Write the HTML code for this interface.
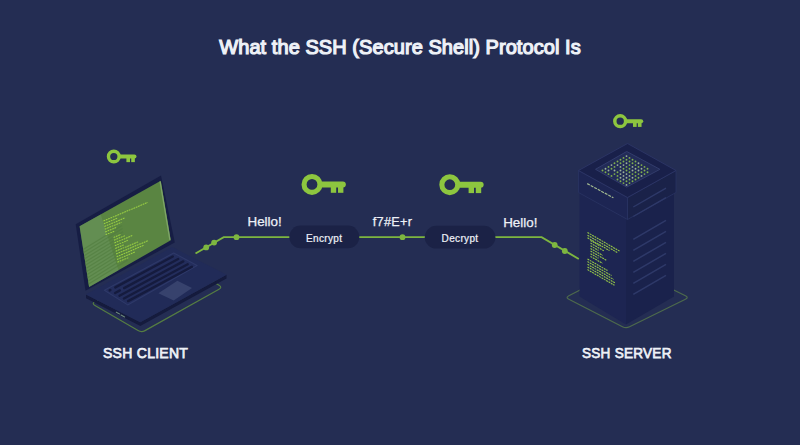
<!DOCTYPE html>
<html><head><meta charset="utf-8">
<style>
html,body{margin:0;padding:0;}
body{width:800px;height:445px;overflow:hidden;background:#242d53;position:relative;font-family:"Liberation Sans",sans-serif;}
.t{position:absolute;color:#eef1f7;white-space:nowrap;line-height:1;}
#title{left:0;width:800px;text-align:center;top:37.3px;font-size:20px;font-weight:normal;letter-spacing:0.06px;-webkit-text-stroke:1.2px #eef1f7;}
.h{font-size:13.4px;-webkit-text-stroke:0.25px #eef1f7;}
.p{font-size:10px;letter-spacing:0.35px;-webkit-text-stroke:0.22px #eef1f7;}
.l{transform-origin:0 0;font-size:15.3px;font-weight:normal;letter-spacing:0.3px;-webkit-text-stroke:0.75px #eef1f7;}
svg{position:absolute;left:0;top:0;}
</style></head>
<body>
<svg width="800" height="445" viewBox="0 0 800 445">
  <defs>
    <g id="key">
      <circle cx="0" cy="0" r="7.95" fill="none" stroke="#8dc63f" stroke-width="5.1"/>
      <path d="M9 -3 H30.8 A3.05 3.05 0 0 1 30.8 3.1 H9 Z" fill="#8dc63f"/>
      <rect x="18.8" y="2" width="5.4" height="6.4" fill="#8dc63f"/>
      <rect x="26" y="2" width="5.4" height="6.4" fill="#8dc63f"/>
    </g>
  </defs>
  <path d="M94.99,301.54 Q91.50,303.50 94.96,305.51 L138.04,330.59 Q141.50,332.60 144.99,330.64 L219.01,289.16 Q222.50,287.20 219.04,285.19 L175.96,260.11 Q172.50,258.10 169.01,260.06 Z" fill="none" stroke="#557d42" stroke-width="1.2"/>
  <polygon points="86.0,294.5 140.3,322.3 226.5,274.8 226.5,278.6 140.3,326.1 86.0,298.3" fill="#151b3d"/>
  <polygon points="86.0,294.5 140.3,322.3 226.5,274.8 172.2,247.0" fill="#212b58"/>
  <line x1="116.3" y1="312.2" x2="119.6" y2="314.0" stroke="#6d8a7c" stroke-width="1.1" stroke-linecap="round"/>
  <line x1="121.0" y1="315.0" x2="124.6" y2="317.0" stroke="#6d8a7c" stroke-width="1.1" stroke-linecap="round"/>
  <polygon points="104.4,290.3 173.7,253.0 197.1,265.4 127.7,304.9" fill="#232d5c" stroke="#2e3969" stroke-width="1.1" stroke-linejoin="round"/>
  <line x1="115.3" y1="287.4" x2="172.8" y2="256.5" stroke="#151b3e" stroke-width="2.4" stroke-linecap="round"/>
  <line x1="124.1" y1="288.1" x2="178.2" y2="259.0" stroke="#151b3e" stroke-width="2.4" stroke-linecap="round"/>
  <line x1="119.5" y1="295.7" x2="183.3" y2="261.4" stroke="#151b3e" stroke-width="2.4" stroke-linecap="round"/>
  <line x1="123.9" y1="298.5" x2="187.7" y2="264.2" stroke="#151b3e" stroke-width="2.4" stroke-linecap="round"/>
  <line x1="128.1" y1="301.1" x2="191.9" y2="266.8" stroke="#151b3e" stroke-width="2.4" stroke-linecap="round"/>
  <line x1="109.7" y1="290.4" x2="110.4" y2="290.0" stroke="#151b3e" stroke-width="2.4" stroke-linecap="round"/>
  <line x1="115.1" y1="293.0" x2="119.9" y2="290.4" stroke="#151b3e" stroke-width="2.4" stroke-linecap="round"/>
  <polygon points="158.4,293.2 177.4,280.8 192.0,288.0 173.7,300.5" fill="#37426d"/>
  <polygon points="75.7,224.3 161.0,175.5 174.8,242.5 85.5,290.8" fill="#161d44"/>
  <polygon points="79.6,226.3 160.8,180.7 170.8,240.3 89.1,287.0" fill="#5a8542"/>
  <line x1="160.1" y1="181.5" x2="169.9" y2="239.8" stroke="#7ea568" stroke-width="1.3" />
  <polygon points="79.6,226.3 100.7,214.4 118.5,270.2 89.1,287.0" fill="#6b9560" opacity="0.55"/>
  <line x1="83.2" y1="249.4" x2="122.0" y2="225.5" stroke="#507c3e" stroke-width="1.2" opacity="0.6"/>
  <line x1="83.7" y1="252.5" x2="122.5" y2="228.6" stroke="#507c3e" stroke-width="1.2" opacity="0.6"/>
  <line x1="84.2" y1="255.7" x2="123.0" y2="231.7" stroke="#507c3e" stroke-width="1.2" opacity="0.6"/>
  <line x1="84.7" y1="258.8" x2="123.5" y2="234.9" stroke="#507c3e" stroke-width="1.2" opacity="0.6"/>
  <line x1="85.2" y1="262.0" x2="124.0" y2="238.0" stroke="#507c3e" stroke-width="1.2" opacity="0.6"/>
  <line x1="85.7" y1="265.1" x2="124.5" y2="241.1" stroke="#507c3e" stroke-width="1.2" opacity="0.6"/>
  <line x1="86.2" y1="268.3" x2="125.0" y2="244.2" stroke="#507c3e" stroke-width="1.2" opacity="0.6"/>
  <line x1="86.7" y1="271.5" x2="125.5" y2="247.4" stroke="#507c3e" stroke-width="1.2" opacity="0.6"/>
  <line x1="87.2" y1="274.6" x2="126.0" y2="250.5" stroke="#507c3e" stroke-width="1.2" opacity="0.6"/>
  <line x1="87.7" y1="277.8" x2="126.5" y2="253.6" stroke="#507c3e" stroke-width="1.2" opacity="0.6"/>
  <line x1="88.1" y1="280.9" x2="127.0" y2="256.8" stroke="#507c3e" stroke-width="1.2" opacity="0.6"/>
  <line x1="88.6" y1="284.1" x2="127.6" y2="259.9" stroke="#507c3e" stroke-width="1.2" opacity="0.6"/>
  <line x1="103.5" y1="221.0" x2="147.7" y2="202.4" stroke="#a2d843" stroke-width="1.05" stroke-dasharray="1.8 0.7" opacity="0.9"/>
  <line x1="103.9" y1="223.8" x2="117.8" y2="217.9" stroke="#a2d843" stroke-width="1.05" stroke-dasharray="1.8 0.7" opacity="0.9"/>
  <line x1="104.4" y1="226.5" x2="124.6" y2="218.0" stroke="#a2d843" stroke-width="1.05" stroke-dasharray="1.8 0.7" opacity="0.9"/>
  <line x1="104.8" y1="229.2" x2="121.4" y2="222.3" stroke="#a2d843" stroke-width="1.05" stroke-dasharray="1.8 0.7" opacity="0.9"/>
  <line x1="105.2" y1="232.0" x2="116.3" y2="227.4" stroke="#a2d843" stroke-width="1.05" stroke-dasharray="1.8 0.7" opacity="0.9"/>
  <line x1="105.6" y1="234.8" x2="114.9" y2="230.9" stroke="#a2d843" stroke-width="1.05" stroke-dasharray="1.8 0.7" opacity="0.9"/>
  <line x1="113.6" y1="237.5" x2="120.9" y2="234.4" stroke="#a2d843" stroke-width="1.05" stroke-dasharray="1.8 0.7" opacity="0.9"/>
  <line x1="114.0" y1="240.2" x2="125.1" y2="235.6" stroke="#a2d843" stroke-width="1.05" stroke-dasharray="1.8 0.7" opacity="0.9"/>
  <line x1="114.4" y1="243.0" x2="132.9" y2="235.3" stroke="#a2d843" stroke-width="1.05" stroke-dasharray="1.8 0.7" opacity="0.9"/>
  <line x1="114.9" y1="245.8" x2="127.8" y2="240.3" stroke="#a2d843" stroke-width="1.05" stroke-dasharray="1.8 0.7" opacity="0.9"/>
  <line x1="115.3" y1="248.5" x2="124.5" y2="244.6" stroke="#a2d843" stroke-width="1.05" stroke-dasharray="1.8 0.7" opacity="0.9"/>
  <line x1="115.7" y1="251.2" x2="138.8" y2="241.6" stroke="#a2d843" stroke-width="1.05" stroke-dasharray="1.8 0.7" opacity="0.9"/>
  <line x1="116.1" y1="254.0" x2="148.4" y2="240.5" stroke="#a2d843" stroke-width="1.05" stroke-dasharray="1.8 0.7" opacity="0.9"/>
  <line x1="116.6" y1="256.8" x2="144.2" y2="245.1" stroke="#a2d843" stroke-width="1.05" stroke-dasharray="1.8 0.7" opacity="0.9"/>
  <line x1="117.0" y1="259.5" x2="135.4" y2="251.8" stroke="#a2d843" stroke-width="1.05" stroke-dasharray="1.8 0.7" opacity="0.9"/>
  <line x1="117.4" y1="262.2" x2="128.5" y2="257.6" stroke="#a2d843" stroke-width="1.05" stroke-dasharray="1.8 0.7" opacity="0.9"/>
  <path d="M568.86,295.68 Q565.30,297.50 568.86,299.32 L622.44,326.68 Q626.00,328.50 629.59,326.73 L685.41,299.27 Q689.00,297.50 685.41,295.73 L629.59,268.27 Q626.00,266.50 622.44,268.32 Z" fill="none" stroke="#4d6a4c" stroke-width="1.2"/>
  <polygon points="579.5,192.0 626.0,219.0 626.0,324.5 579.5,296.5" fill="#1d2552"/>
  <polygon points="626.0,219.0 674.0,192.0 674.0,296.5 626.0,324.5" fill="#1a224c"/>
  <polygon points="578.5,170.5 627.5,197.5 627.5,219.5 578.5,192.5" fill="#1d2553" stroke="#2a3463" stroke-width="0.8"/>
  <polygon points="627.5,197.5 676.0,170.5 676.0,192.5 627.5,219.5" fill="#1a2249" stroke="#2a3463" stroke-width="0.8"/>
  <polygon points="627.5,143.5 676.0,170.5 627.5,197.5 578.5,170.5" fill="#19204a" stroke="#2c3666" stroke-width="0.9"/>
  <polygon points="626.7,151.5 659.9,169.3 626.7,187.1 595.5,169.3" fill="#222b57" stroke="#323c6c" stroke-width="1"/>
  <circle cx="602.5" cy="170.5" r="0.95" fill="#7fb04c"/>
  <circle cx="605.5" cy="172.3" r="0.95" fill="#7fb04c"/>
  <circle cx="608.5" cy="174.1" r="0.95" fill="#7fb04c"/>
  <circle cx="611.5" cy="175.9" r="0.95" fill="#7fb04c"/>
  <circle cx="617.5" cy="179.5" r="0.95" fill="#7fb04c"/>
  <circle cx="620.5" cy="181.3" r="0.95" fill="#7fb04c"/>
  <circle cx="623.5" cy="183.1" r="0.95" fill="#7fb04c"/>
  <circle cx="626.5" cy="184.9" r="0.95" fill="#9cb19a"/>
  <circle cx="605.5" cy="168.7" r="0.95" fill="#9cb19a"/>
  <circle cx="608.5" cy="170.5" r="0.95" fill="#9cb19a"/>
  <circle cx="614.5" cy="174.1" r="0.95" fill="#7fb04c"/>
  <circle cx="617.5" cy="175.9" r="0.95" fill="#7fb04c"/>
  <circle cx="620.5" cy="177.7" r="0.95" fill="#9cb19a"/>
  <circle cx="623.5" cy="179.5" r="0.95" fill="#9cb19a"/>
  <circle cx="626.5" cy="181.3" r="0.95" fill="#7fb04c"/>
  <circle cx="629.5" cy="183.1" r="0.95" fill="#7fb04c"/>
  <circle cx="608.5" cy="166.9" r="0.95" fill="#7fb04c"/>
  <circle cx="611.5" cy="168.7" r="0.95" fill="#7fb04c"/>
  <circle cx="614.5" cy="170.5" r="0.95" fill="#9cb19a"/>
  <circle cx="617.5" cy="172.3" r="0.95" fill="#7fb04c"/>
  <circle cx="620.5" cy="174.1" r="0.95" fill="#9cb19a"/>
  <circle cx="623.5" cy="175.9" r="0.95" fill="#9cb19a"/>
  <circle cx="626.5" cy="177.7" r="0.95" fill="#9cb19a"/>
  <circle cx="629.5" cy="179.5" r="0.95" fill="#7fb04c"/>
  <circle cx="632.5" cy="181.3" r="0.95" fill="#7fb04c"/>
  <circle cx="611.5" cy="165.1" r="0.95" fill="#9cb19a"/>
  <circle cx="614.5" cy="166.9" r="0.95" fill="#7fb04c"/>
  <circle cx="620.5" cy="170.5" r="0.95" fill="#9cb19a"/>
  <circle cx="623.5" cy="172.3" r="0.95" fill="#9cb19a"/>
  <circle cx="626.5" cy="174.1" r="0.95" fill="#9cb19a"/>
  <circle cx="629.5" cy="175.9" r="0.95" fill="#9cb19a"/>
  <circle cx="632.5" cy="177.7" r="0.95" fill="#9cb19a"/>
  <circle cx="635.5" cy="179.5" r="0.95" fill="#7fb04c"/>
  <circle cx="614.5" cy="163.3" r="0.95" fill="#7fb04c"/>
  <circle cx="617.5" cy="165.1" r="0.95" fill="#9cb19a"/>
  <circle cx="620.5" cy="166.9" r="0.95" fill="#9cb19a"/>
  <circle cx="623.5" cy="168.7" r="0.95" fill="#7fb04c"/>
  <circle cx="626.5" cy="170.5" r="0.95" fill="#7fb04c"/>
  <circle cx="629.5" cy="172.3" r="0.95" fill="#7fb04c"/>
  <circle cx="632.5" cy="174.1" r="0.95" fill="#7fb04c"/>
  <circle cx="635.5" cy="175.9" r="0.95" fill="#7fb04c"/>
  <circle cx="638.5" cy="177.7" r="0.95" fill="#7fb04c"/>
  <circle cx="617.5" cy="161.5" r="0.95" fill="#7fb04c"/>
  <circle cx="620.5" cy="163.3" r="0.95" fill="#7fb04c"/>
  <circle cx="623.5" cy="165.1" r="0.95" fill="#9cb19a"/>
  <circle cx="626.5" cy="166.9" r="0.95" fill="#7fb04c"/>
  <circle cx="629.5" cy="168.7" r="0.95" fill="#7fb04c"/>
  <circle cx="632.5" cy="170.5" r="0.95" fill="#9cb19a"/>
  <circle cx="635.5" cy="172.3" r="0.95" fill="#7fb04c"/>
  <circle cx="638.5" cy="174.1" r="0.95" fill="#7fb04c"/>
  <circle cx="641.5" cy="175.9" r="0.95" fill="#9cb19a"/>
  <circle cx="620.5" cy="159.7" r="0.95" fill="#7fb04c"/>
  <circle cx="623.5" cy="161.5" r="0.95" fill="#7fb04c"/>
  <circle cx="626.5" cy="163.3" r="0.95" fill="#9cb19a"/>
  <circle cx="629.5" cy="165.1" r="0.95" fill="#7fb04c"/>
  <circle cx="632.5" cy="166.9" r="0.95" fill="#9cb19a"/>
  <circle cx="635.5" cy="168.7" r="0.95" fill="#9cb19a"/>
  <circle cx="638.5" cy="170.5" r="0.95" fill="#9cb19a"/>
  <circle cx="641.5" cy="172.3" r="0.95" fill="#7fb04c"/>
  <circle cx="644.5" cy="174.1" r="0.95" fill="#7fb04c"/>
  <circle cx="623.5" cy="157.9" r="0.95" fill="#7fb04c"/>
  <circle cx="626.5" cy="159.7" r="0.95" fill="#7fb04c"/>
  <circle cx="629.5" cy="161.5" r="0.95" fill="#7fb04c"/>
  <circle cx="632.5" cy="163.3" r="0.95" fill="#7fb04c"/>
  <circle cx="635.5" cy="165.1" r="0.95" fill="#7fb04c"/>
  <circle cx="638.5" cy="166.9" r="0.95" fill="#7fb04c"/>
  <circle cx="641.5" cy="168.7" r="0.95" fill="#9cb19a"/>
  <circle cx="644.5" cy="170.5" r="0.95" fill="#7fb04c"/>
  <circle cx="647.5" cy="172.3" r="0.95" fill="#7fb04c"/>
  <circle cx="626.5" cy="156.1" r="0.95" fill="#9cb19a"/>
  <circle cx="629.5" cy="157.9" r="0.95" fill="#7fb04c"/>
  <circle cx="632.5" cy="159.7" r="0.95" fill="#7fb04c"/>
  <circle cx="635.5" cy="161.5" r="0.95" fill="#7fb04c"/>
  <circle cx="638.5" cy="163.3" r="0.95" fill="#9cb19a"/>
  <circle cx="641.5" cy="165.1" r="0.95" fill="#7fb04c"/>
  <circle cx="644.5" cy="166.9" r="0.95" fill="#7fb04c"/>
  <circle cx="647.5" cy="168.7" r="0.95" fill="#7fb04c"/>
  <line x1="633.3" y1="239.3" x2="666.0" y2="220.4" stroke="#2e3969" stroke-width="1.5" />
  <line x1="633.3" y1="250.3" x2="666.0" y2="231.4" stroke="#2e3969" stroke-width="1.5" />
  <line x1="633.3" y1="261.3" x2="666.0" y2="242.4" stroke="#2e3969" stroke-width="1.5" />
  <line x1="633.3" y1="272.3" x2="666.0" y2="253.4" stroke="#2e3969" stroke-width="1.5" />
  <line x1="633.3" y1="283.3" x2="666.0" y2="264.4" stroke="#2e3969" stroke-width="1.5" />
  <line x1="633.3" y1="294.3" x2="666.0" y2="275.4" stroke="#2e3969" stroke-width="1.5" />
  <line x1="633.3" y1="207.0" x2="666.0" y2="188.1" stroke="#2e3969" stroke-width="1.4" />
  <line x1="633.3" y1="216.5" x2="666.0" y2="197.6" stroke="#2e3969" stroke-width="1.4" />
  <line x1="587.5" y1="232.5" x2="619.5" y2="251.1" stroke="#a0d648" stroke-width="1.1" stroke-dasharray="2 0.7" opacity="0.9"/>
  <line x1="587.5" y1="235.2" x2="617.5" y2="252.6" stroke="#a0d648" stroke-width="1.1" stroke-dasharray="2 0.7" opacity="0.9"/>
  <line x1="587.5" y1="237.8" x2="609.5" y2="250.6" stroke="#a0d648" stroke-width="1.1" stroke-dasharray="2 0.7" opacity="0.9"/>
  <line x1="590.5" y1="240.4" x2="600.5" y2="246.2" stroke="#a0d648" stroke-width="1.1" stroke-dasharray="2 0.7" opacity="0.9"/>
  <line x1="590.5" y1="243.1" x2="604.5" y2="251.2" stroke="#a0d648" stroke-width="1.1" stroke-dasharray="2 0.7" opacity="0.9"/>
  <line x1="590.5" y1="245.8" x2="598.5" y2="250.4" stroke="#a0d648" stroke-width="1.1" stroke-dasharray="2 0.7" opacity="0.9"/>
  <line x1="590.5" y1="248.4" x2="602.5" y2="255.4" stroke="#a0d648" stroke-width="1.1" stroke-dasharray="2 0.7" opacity="0.9"/>
  <line x1="590.5" y1="251.1" x2="606.5" y2="260.3" stroke="#a0d648" stroke-width="1.1" stroke-dasharray="2 0.7" opacity="0.9"/>
  <line x1="590.5" y1="253.7" x2="598.5" y2="258.3" stroke="#a0d648" stroke-width="1.1" stroke-dasharray="2 0.7" opacity="0.9"/>
  <line x1="590.5" y1="256.4" x2="602.5" y2="263.3" stroke="#a0d648" stroke-width="1.1" stroke-dasharray="2 0.7" opacity="0.9"/>
  <line x1="587.5" y1="259.0" x2="607.5" y2="270.6" stroke="#a0d648" stroke-width="1.1" stroke-dasharray="2 0.7" opacity="0.9"/>
  <line x1="587.5" y1="261.6" x2="611.5" y2="275.6" stroke="#a0d648" stroke-width="1.1" stroke-dasharray="2 0.7" opacity="0.9"/>
  <line x1="587.5" y1="264.3" x2="613.5" y2="279.4" stroke="#a0d648" stroke-width="1.1" stroke-dasharray="2 0.7" opacity="0.9"/>
  <line x1="587.5" y1="266.9" x2="615.5" y2="283.2" stroke="#a0d648" stroke-width="1.1" stroke-dasharray="2 0.7" opacity="0.9"/>
  <line x1="587.5" y1="269.6" x2="614.5" y2="285.3" stroke="#a0d648" stroke-width="1.1" stroke-dasharray="2 0.7" opacity="0.9"/>
  <line x1="587.2" y1="183.6" x2="613.4" y2="197.8" stroke="#a3ba90" stroke-width="1.2" stroke-dasharray="3 1"/>
  <polyline points="195.5,253.5 223.7,237.1 541.6,237.1 578.8,259" fill="none" stroke="#7db640" stroke-width="1.9"/>
  <circle cx="206.2" cy="247.4" r="2.9" fill="#7db640"/>
  <circle cx="214.1" cy="242.6" r="2.9" fill="#7db640"/>
  <circle cx="236.5" cy="237.2" r="2.9" fill="#7db640"/>
  <circle cx="402.5" cy="237.2" r="2.9" fill="#7db640"/>
  <circle cx="554.7" cy="245" r="2.9" fill="#7db640"/>
  <circle cx="564.8" cy="251" r="2.9" fill="#7db640"/>
  <rect x="289.3" y="225.6" width="70" height="22.6" rx="11.3" fill="#1b2246"/>
  <rect x="424.8" y="225.8" width="70.6" height="22.8" rx="11.4" fill="#1b2246"/>
  <use href="#key" transform="translate(312,184.4)"/>
  <use href="#key" transform="translate(449.8,184.7)"/>
  <use href="#key" transform="translate(113.8,156.5) scale(0.67)"/>
  <use href="#key" transform="translate(620.2,121.2) scale(0.68)"/>
</svg>
<div class="t" id="title">What the SSH (Secure Shell) Protocol Is</div>
<div class="t h" style="left:247.5px;top:215.3px;">Hello!</div>
<div class="t h" style="left:503.2px;top:215.6px;">Hello!</div>
<div class="t h" style="left:372.8px;top:215.8px;font-size:12.7px;letter-spacing:0.3px;">f7#E+r</div>
<div class="t p" style="left:306px;top:233.7px;">Encrypt</div>
<div class="t p" style="left:441.6px;top:233.7px;">Decrypt</div>
<div class="t l" style="left:103px;top:345.3px;transform:scaleX(0.915);">SSH CLIENT</div>
<div class="t l" style="left:582.2px;top:345.3px;letter-spacing:0.3px;transform:scaleX(0.885);">SSH SERVER</div>
</body></html>
